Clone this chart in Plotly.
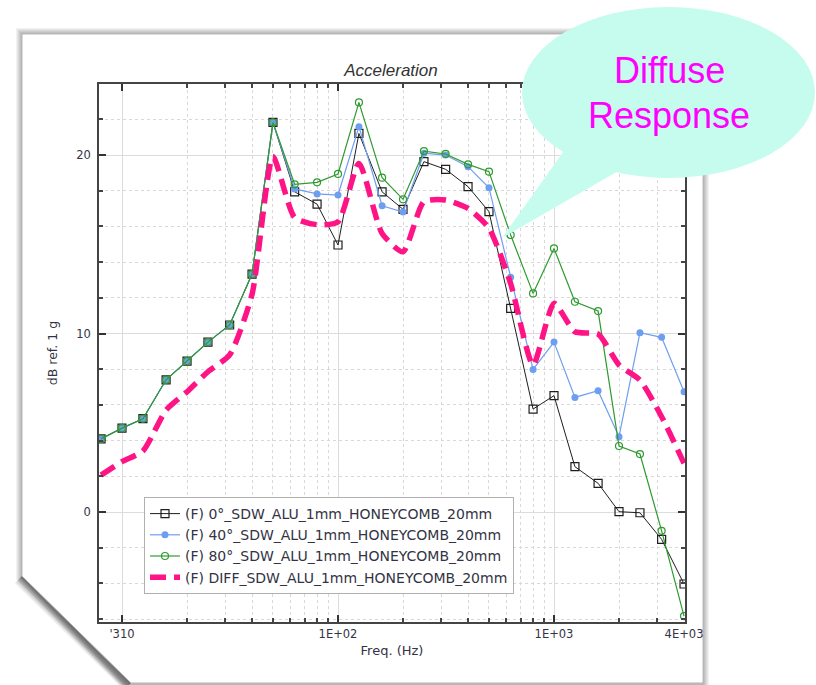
import plotly.graph_objects as go

# ---------------- data ----------------
freqs = [8, 10, 12.5, 16, 20, 25, 31.5, 40, 50, 63, 80, 100, 125, 160, 200, 250,
         315, 400, 500, 630, 800, 1000, 1250, 1600, 2000, 2500, 3150, 4000]
low_common = [4.1, 4.7, 5.23, 7.41, 8.46, 9.52, 10.48, 13.33, 21.83]
deg0 = low_common + [17.94, 17.25, 14.96, 21.21, 17.94, 16.96, 19.63, 19.2, 18.23, 16.83,
                     11.41, 5.77, 6.52, 2.54, 1.61, 0.02, -0.04, -1.53, -4.03]
deg40 = low_common + [18.1, 17.82, 17.76, 21.59, 17.16, 16.81, 20.1, 20.0, 19.35, 18.17,
                      13.15, 7.99, 9.52, 6.42, 6.8, 4.22, 10.05, 9.79, 6.74]
deg80 = low_common + [18.36, 18.47, 18.94, 22.95, 18.73, 17.52, 20.22, 20.06, 19.48, 19.07,
                      15.52, 12.25, 14.77, 11.78, 11.26, 3.70, 3.25, -1.05, -5.83]
diff = [2.07, 2.82, 3.42, 5.71, 6.74, 7.86, 8.8, 12.2, 19.9, 16.5, 16.1, 16.26, 19.53, 15.61,
        14.58, 17.39, 17.48, 17.01, 15.9, 12.8, 8.24, 11.69, 10.1, 9.97, 8.24, 7.39, 5.34, 2.73]

names = ["(F) 0°_SDW_ALU_1mm_HONEYCOMB_20mm",
         "(F) 40°_SDW_ALU_1mm_HONEYCOMB_20mm",
         "(F) 80°_SDW_ALU_1mm_HONEYCOMB_20mm",
         "(F) DIFF_SDW_ALU_1mm_HONEYCOMB_20mm"]

x_tickvals = [10, 100, 1000, 4000]
x_ticktext = ["'310", "1E+02", "1E+03", "4E+03"]
y_tickvals = [0, 10, 20]
x_minor = [v * d for d in (10, 100, 1000) for v in range(2, 10) if v * d <= 4000]
y_minor = [v for v in range(-6, 25, 2) if v % 10 != 0]

# ---------------- layout geometry (pixels) ----------------
W, H = 816, 685
L, R, T, B = 99, 685, 84, 622


def px(xp):
    return (xp - L) / (R - L)


def py(yp):
    return (B - yp) / (B - T)


def path(points):
    return "M " + " L ".join(f"{px(a):.5f},{py(b):.5f}" for a, b in points) + " Z"


fig = go.Figure()

fig.add_trace(go.Scatter(
    x=freqs, y=deg0, name=names[0], mode="lines+markers",
    line=dict(color="#1e1e1e", width=1),
    marker=dict(symbol="square-open", size=8, color="#1e1e1e", line=dict(width=1.2))))
fig.add_trace(go.Scatter(
    x=freqs, y=deg40, name=names[1], mode="lines+markers",
    line=dict(color="#6d9ef0", width=1.2),
    marker=dict(symbol="circle", size=7, color="#6d9ef0")))
fig.add_trace(go.Scatter(
    x=freqs, y=deg80, name=names[2], mode="lines+markers",
    line=dict(color="#2f9a2f", width=1.2),
    marker=dict(symbol="circle-open", size=7, color="#2f9a2f", line=dict(width=1.2))))
fig.add_trace(go.Scatter(
    x=freqs, y=diff, name=names[3], mode="lines",
    line=dict(color="#ff1486", width=5.5, dash="16px,8px", shape="spline", smoothing=0.6)))

shapes = []
# paper shadow layers
paper_pts = [(22, 34), (703, 34), (703, 683), (131, 683), (22, 576)]
for k in range(6, 0, -1):
    pts = [(22 - k, 34 - k), (703 + k, 34 - k), (703 + k, 690), (131 - k, 690),
           (22 - k, 576 + k * 0.6)]
    shapes.append(dict(type="path", xref="paper", yref="paper", layer="below",
                       path=path(pts), fillcolor="rgba(0,0,0,0.05)", line=dict(width=0)))
# diagonal fold shadow
for k in range(10, 0, -2):
    pts = [(22, 576), (131, 683), (131 - k * 0.7, 683 + k * 0.7), (22 - k * 0.7, 576 + k * 0.7)]
    shapes.append(dict(type="path", xref="paper", yref="paper", layer="below",
                       path=path(pts), fillcolor="rgba(0,0,0,0.09)", line=dict(width=0)))
shapes.append(dict(type="path", xref="paper", yref="paper", layer="below",
                   path=path(paper_pts), fillcolor="white",
                   line=dict(color="#b8b8b8", width=1)))

# speech bubble
bubble = "#c6fcee"
shapes.append(dict(type="path", xref="paper", yref="paper", layer="above",
                   path=path([(566, 148), (502, 238), (620, 170)]),
                   fillcolor=bubble, line=dict(width=0)))
shapes.append(dict(type="circle", xref="paper", yref="paper", layer="above",
                   x0=px(522), x1=px(815), y0=py(178), y1=py(7),
                   fillcolor=bubble, line=dict(width=0)))

bubble_font = dict(family="Liberation Sans", size=36, color="#ff00ff")
annotations = [
    dict(text="Diffuse", x=px(669), y=py(71), xref="paper", yref="paper",
         xanchor="center", yanchor="middle", showarrow=False, font=bubble_font),
    dict(text="Response", x=px(669), y=py(116), xref="paper", yref="paper",
         xanchor="center", yanchor="middle", showarrow=False, font=bubble_font),
]

tickfont = dict(family="DejaVu Sans", size=11.5, color="#333344")

fig.update_layout(
    width=W, height=H,
    margin=dict(l=L, r=W - R, t=T, b=H - B, autoexpand=False),
    paper_bgcolor="white", plot_bgcolor="white",
    showlegend=True,
    title=dict(text="<i>Acceleration</i>", x=px(391), y=1 - 70 / H, xanchor="center",
               yanchor="middle", xref="paper", yref="container",
               font=dict(family="Liberation Sans", size=17, color="#333333")),
    legend=dict(x=px(144), y=py(497), xanchor="left", yanchor="top",
                bgcolor="white", bordercolor="#b0b0b0", borderwidth=1,
                font=dict(family="DejaVu Sans", size=14, color="#333344"),
                tracegroupgap=0, itemwidth=30),
    shapes=shapes, annotations=annotations,
    xaxis=dict(type="log", range=[0.8935, 3.6065],
               tickvals=x_tickvals, ticktext=x_ticktext, tickfont=tickfont,
               ticks="inside", ticklen=7, tickcolor="#333", tickwidth=1.5,
               showline=True, linecolor="#444", linewidth=1.5, mirror="ticks",
               showgrid=True, gridcolor="#dcdcdc", gridwidth=1.2, zeroline=False,
               minor=dict(tickvals=x_minor, ticks="inside", ticklen=4, tickcolor="#444",
                          showgrid=True, gridcolor="#d8d8d8", griddash="dot", gridwidth=1),
               title=dict(text="Freq. (Hz)", standoff=6,
                          font=dict(family="DejaVu Sans", size=13, color="#333344"))),
    yaxis=dict(range=[-6.16, 23.98],
               tickvals=y_tickvals, tickfont=tickfont, ticklabelstandoff=4,
               ticks="inside", ticklen=7, tickcolor="#333", tickwidth=1.5,
               showline=True, linecolor="#444", linewidth=1.5, mirror="ticks",
               showgrid=True, gridcolor="#dcdcdc", gridwidth=1.2, zeroline=False,
               minor=dict(tickvals=y_minor, ticks="inside", ticklen=4, tickcolor="#444",
                          showgrid=True, gridcolor="#d8d8d8", griddash="dot", gridwidth=1),
               title=dict(text="dB ref. 1 g", standoff=16,
                          font=dict(family="DejaVu Sans", size=12.5, color="#333344"))),
)

fig.write_html("out.html")
